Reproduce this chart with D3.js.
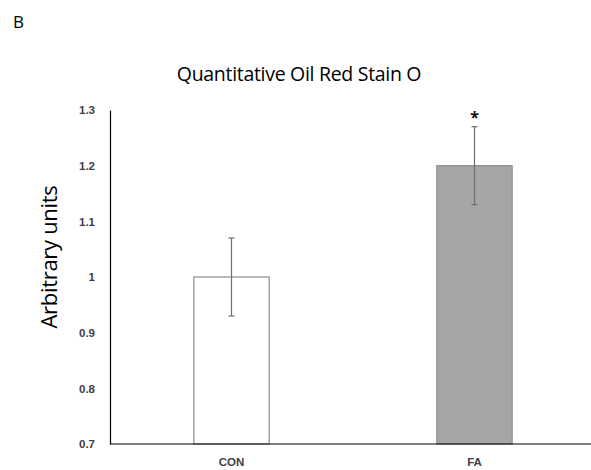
<!DOCTYPE html>
<html>
<head>
  <meta charset="utf-8">
  <title>Quantitative Oil Red Stain O</title>
  <script src="https://d3js.org/d3.v7.min.js"></script>
  <style>
    body {
      margin: 0;
      padding: 0;
      background-color: white;
    }
    svg {
      font-family: "Open Sans", Arial, sans-serif;
    }
    .tick text {
      font-size: 11.5px;
      font-weight: bold;
      fill: #404048;
    }
  </style>
</head>
<body>

  <div id="chart"></div>

  <script>
    // Data
    var groups = ["CON", "FA"];
    var means = [1.0, 1.2];
    var errors = [0.07, 0.07];
    var fills = ["#ffffff", "#a6a6a6"];
    var marks = ["", "*"];
    var yTicks = [0.7, 0.8, 0.9, 1.0, 1.1, 1.2, 1.3];

    var width = 591,
        height = 470;

    var svg = d3.select("#chart")
      .append("svg")
        .attr("width", width)
        .attr("height", height);

    var x = d3.scaleBand()
      .domain(groups)
      .range([110, 596])
      .paddingInner(0.69)
      .paddingOuter(0.345);

    var y = d3.scaleLinear()
      .domain([0.7, 1.3])
      .range([444, 110]);

    // Panel letter
    svg.append("text")
      .attr("x", 13)
      .attr("y", 28)
      .attr("font-size", "17px")
      .attr("fill", "#000")
      .text("B");

    // Title
    svg.append("text")
      .attr("x", 299)
      .attr("y", 81)
      .attr("text-anchor", "middle")
      .attr("font-size", "19.5px")
      .attr("letter-spacing", "-0.3px")
      .attr("fill", "#000")
      .text("Quantitative Oil Red Stain O");

    // Y axis label
    svg.append("text")
      .attr("transform", "translate(57,257) rotate(-90)")
      .attr("text-anchor", "middle")
      .attr("font-size", "22px")
      .attr("letter-spacing", "-0.3px")
      .attr("fill", "#000")
      .text("Arbitrary units");

    // Bars
    svg.selectAll(".bar")
      .data(groups)
      .enter()
      .append("rect")
        .attr("class", "bar")
        .attr("x", function(d) { return x(d); })
        .attr("y", function(d, i) { return y(means[i]); })
        .attr("width", x.bandwidth())
        .attr("height", function(d, i) { return y(0.7) - y(means[i]); })
        .attr("fill", function(d, i) { return fills[i]; })
        .attr("stroke", "#8c8c8c")
        .attr("stroke-width", 1.2);

    // Error bars
    var err = svg.selectAll(".err")
      .data(groups)
      .enter()
      .append("g")
        .attr("class", "err")
        .attr("stroke", "#6e6e6e")
        .attr("stroke-width", 1.2);

    err.append("line")
      .attr("x1", function(d) { return x(d) + x.bandwidth() / 2; })
      .attr("x2", function(d) { return x(d) + x.bandwidth() / 2; })
      .attr("y1", function(d, i) { return y(means[i] + errors[i]); })
      .attr("y2", function(d, i) { return y(means[i] - errors[i]); });

    err.append("line")
      .attr("x1", function(d) { return x(d) + x.bandwidth() / 2 - 3; })
      .attr("x2", function(d) { return x(d) + x.bandwidth() / 2 + 3; })
      .attr("y1", function(d, i) { return y(means[i] + errors[i]); })
      .attr("y2", function(d, i) { return y(means[i] + errors[i]); });

    err.append("line")
      .attr("x1", function(d) { return x(d) + x.bandwidth() / 2 - 3; })
      .attr("x2", function(d) { return x(d) + x.bandwidth() / 2 + 3; })
      .attr("y1", function(d, i) { return y(means[i] - errors[i]); })
      .attr("y2", function(d, i) { return y(means[i] - errors[i]); });

    // Significance marks
    svg.selectAll(".sig")
      .data(groups)
      .enter()
      .append("text")
        .attr("class", "sig")
        .attr("x", function(d) { return x(d) + x.bandwidth() / 2; })
        .attr("y", function(d, i) { return y(means[i] + errors[i]) - 4; })
        .attr("text-anchor", "middle")
        .attr("font-size", "16px")
        .attr("font-weight", "bold")
        .attr("fill", "#111")
        .text(function(d, i) { return marks[i]; });

    // Y axis
    var yAxis = svg.append("g")
      .attr("transform", "translate(110,0)")
      .call(d3.axisLeft(y)
        .tickValues(yTicks)
        .tickSize(0)
        .tickPadding(15)
        .tickFormat(function(d) { return d3.format("")(+d.toFixed(1)); }));
    yAxis.select(".domain").attr("stroke", "#000").attr("stroke-width", 1.2);

    // X axis
    var xAxis = svg.append("g")
      .attr("transform", "translate(0,444)")
      .call(d3.axisBottom(x).tickSize(0).tickPadding(14));
    xAxis.select(".domain").attr("stroke", "#000").attr("stroke-width", 1.2)
      .attr("d", "M110,0H591");
  </script>

</body>
</html>
